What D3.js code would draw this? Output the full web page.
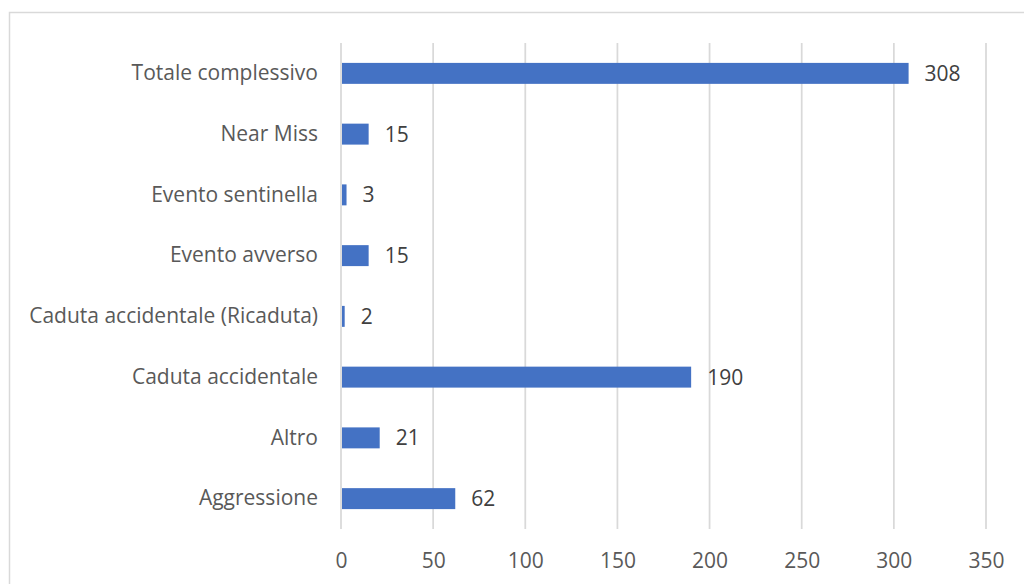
<!DOCTYPE html>
<html>
<head>
<meta charset="utf-8">
<script src="https://cdn.jsdelivr.net/npm/d3@7"></script>
<style>
  body { margin: 0; background: #fff; }
  svg text { font-family: "Open Sans", "Noto Sans", sans-serif; }
</style>
</head>
<body>
<div id="app"></div>
<script>
// Categories (top to bottom) and values
const categories = [
  "Totale complessivo",
  "Near Miss",
  "Evento sentinella",
  "Evento avverso",
  "Caduta accidentale (Ricaduta)",
  "Caduta accidentale",
  "Altro",
  "Aggressione"
];
const values = [308, 15, 3, 15, 2, 190, 21, 62];
const xTicks = [0, 50, 100, 150, 200, 250, 300, 350];

const width = 1024;
const height = 584;
const fontSize = 21;

const svg = d3.select("#app")
  .append("svg")
  .attr("width", width)
  .attr("height", height);

// Chart border (runs off right/bottom edge)
svg.append("rect")
  .attr("x", 9.5)
  .attr("y", 12.5)
  .attr("width", 1030)
  .attr("height", 600)
  .attr("fill", "none")
  .attr("stroke", "#d9d9d9")
  .attr("stroke-width", 1.5);

const xScale = d3.scaleLinear().domain([0, 350]).range([341, 986]);
const yScale = d3.scaleBand().domain(categories).range([43, 529]).paddingInner(0.655).paddingOuter(0.3275);

// Gridlines
svg.append("g")
  .selectAll("line")
  .data(xTicks)
  .join("line")
  .attr("x1", d => xScale(d))
  .attr("x2", d => xScale(d))
  .attr("y1", 43)
  .attr("y2", 529)
  .attr("stroke", "#d9d9d9")
  .attr("stroke-width", 1.75);

// Bars
svg.append("g")
  .selectAll("rect")
  .data(categories)
  .join("rect")
  .attr("x", xScale(0) + 1)
  .attr("y", d => yScale(d))
  .attr("width", (d, i) => xScale(values[i]) - xScale(0) - 1)
  .attr("height", yScale.bandwidth())
  .attr("fill", "#4472c4");

// Value labels
svg.append("g")
  .selectAll("text")
  .data(categories)
  .join("text")
  .attr("x", (d, i) => xScale(values[i]) + 16)
  .attr("y", d => yScale(d) + yScale.bandwidth() / 2)
  .attr("dy", "0.36em")
  .attr("font-size", fontSize)
  .attr("fill", "#404040")
  .text((d, i) => values[i]);

// Y axis (category labels)
const yAxis = svg.append("g")
  .attr("transform", "translate(341,0)")
  .call(d3.axisLeft(yScale).tickSize(0).tickPadding(23));
yAxis.select(".domain").remove();
yAxis.selectAll("text")
  .attr("font-size", fontSize)
  .attr("font-family", "Open Sans, Noto Sans, sans-serif")
  .attr("fill", "#595959");

// X axis (tick labels)
const xAxis = svg.append("g")
  .attr("transform", "translate(0,529)")
  .call(d3.axisBottom(xScale).tickValues(xTicks).tickSize(0).tickPadding(24));
xAxis.select(".domain").remove();
xAxis.selectAll("text")
  .attr("font-size", fontSize)
  .attr("font-family", "Open Sans, Noto Sans, sans-serif")
  .attr("fill", "#595959");
</script>
</body>
</html>
